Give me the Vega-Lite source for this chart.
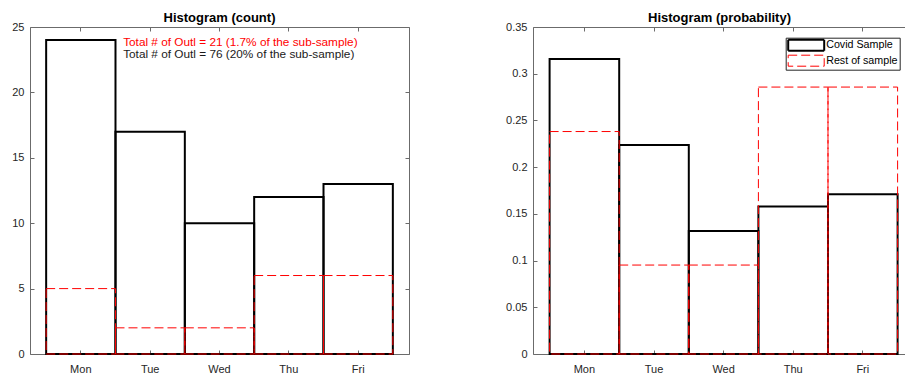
{
  "$schema": "https://vega.github.io/schema/vega-lite/v6.json",
  "padding": {"left": 5, "top": 12, "right": 0, "bottom": 0},
  "spacing": 93,
  "config": {
    "font": "Liberation Sans",
    "view": {"stroke": null},
    "axis": {
      "domainColor": "#6b6b6b",
      "domainWidth": 1,
      "tickColor": "#6b6b6b",
      "tickSize": -4,
      "labelColor": "#262626",
      "labelFont": "Liberation Sans",
      "labelFontSize": 11,
      "grid": false
    },
    "title": {
      "font": "Liberation Sans",
      "fontSize": 13,
      "fontWeight": "bold",
      "color": "#000000",
      "offset": -4,
      "baseline": "alphabetic"
    }
  },
  "datasets": {
    "weekdays": [
      {"day": "Mon", "series": "Covid Sample", "count": 24, "prob": 0.3158},
      {"day": "Tue", "series": "Covid Sample", "count": 17, "prob": 0.2237},
      {"day": "Wed", "series": "Covid Sample", "count": 10, "prob": 0.1316},
      {"day": "Thu", "series": "Covid Sample", "count": 12, "prob": 0.1579},
      {"day": "Fri", "series": "Covid Sample", "count": 13, "prob": 0.1711},
      {"day": "Mon", "series": "Rest of sample", "count": 5, "prob": 0.2381},
      {"day": "Tue", "series": "Rest of sample", "count": 2, "prob": 0.0952},
      {"day": "Wed", "series": "Rest of sample", "count": 2, "prob": 0.0952},
      {"day": "Thu", "series": "Rest of sample", "count": 6, "prob": 0.2857},
      {"day": "Fri", "series": "Rest of sample", "count": 6, "prob": 0.2857}
    ]
  },
  "hconcat": [
    {
      "width": 379,
      "height": 327,
      "title": "Histogram (count)",
      "data": {"name": "weekdays"},
      "resolve": {"axis": {"x": "independent", "y": "independent"}},
      "layer": [
        {
          "transform": [{"filter": "datum.series === 'Covid Sample'"}],
          "mark": {"type": "bar", "fill": "transparent", "stroke": "#000000", "strokeWidth": 2},
          "encoding": {
            "x": {
              "field": "day", "type": "nominal",
              "sort": ["Mon", "Tue", "Wed", "Thu", "Fri"],
              "scale": {"paddingInner": 0, "paddingOuter": 0.233},
              "axis": {"orient": "bottom", "title": null, "labelAngle": 0, "labelPadding": 13}
            },
            "y": {
              "field": "count", "type": "quantitative",
              "scale": {"domain": [0, 25], "nice": false},
              "axis": {"orient": "left", "title": null, "values": [0, 5, 10, 15, 20, 25], "labelPadding": 10, "minExtent": 25, "maxExtent": 25}
            }
          }
        },
        {
          "transform": [{"filter": "datum.series === 'Rest of sample'"}],
          "mark": {"type": "bar", "fill": "transparent", "stroke": "#ff0000", "strokeWidth": 1, "strokeDash": [9, 4]},
          "encoding": {
            "x": {
              "field": "day", "type": "nominal",
              "sort": ["Mon", "Tue", "Wed", "Thu", "Fri"],
              "axis": {"orient": "top", "title": null, "labels": false, "minExtent": 0, "maxExtent": 0}
            },
            "y": {
              "field": "count", "type": "quantitative",
              "axis": {"orient": "right", "title": null, "labels": false, "values": [0, 5, 10, 15, 20, 25], "minExtent": 0, "maxExtent": 0}
            }
          }
        },
        {
          "data": {"values": [{}]},
          "mark": {"type": "text", "align": "left", "baseline": "middle", "dx": -27, "fontSize": 11.8, "color": "#ff0000", "text": "Total # of Outl = 21 (1.7% of the sub-sample)"},
          "encoding": {
            "x": {"datum": "Tue", "type": "nominal", "axis": null},
            "y": {"datum": 23.88, "type": "quantitative", "axis": null}
          }
        },
        {
          "data": {"values": [{}]},
          "mark": {"type": "text", "align": "left", "baseline": "middle", "dx": -27, "fontSize": 11.8, "color": "#1a1a1a", "text": "Total # of Outl = 76 (20% of the sub-sample)"},
          "encoding": {
            "x": {"datum": "Tue", "type": "nominal", "axis": null},
            "y": {"datum": 22.94, "type": "quantitative", "axis": null}
          }
        }
      ]
    },
    {
      "width": 373,
      "height": 327,
      "title": "Histogram (probability)",
      "data": {"name": "weekdays"},
      "resolve": {"axis": {"x": "independent", "y": "independent"}},
      "layer": [
        {
          "transform": [{"filter": "datum.series === 'Covid Sample'"}],
          "mark": {"type": "bar", "fill": "transparent"},
          "encoding": {
            "x": {
              "field": "day", "type": "nominal",
              "sort": ["Mon", "Tue", "Wed", "Thu", "Fri"],
              "scale": {"paddingInner": 0, "paddingOuter": 0.1796, "align": 0.664},
              "axis": {"orient": "bottom", "title": null, "labelAngle": 0, "labelPadding": 13}
            },
            "y": {
              "field": "prob", "type": "quantitative",
              "scale": {"domain": [0, 0.35], "nice": false},
              "axis": {"orient": "left", "title": null, "values": [0, 0.05, 0.1, 0.15, 0.2, 0.25, 0.3, 0.35], "format": "~g", "labelPadding": 10, "minExtent": 30, "maxExtent": 30}
            },
            "stroke": {
              "field": "series", "type": "nominal",
              "scale": {"domain": ["Covid Sample", "Rest of sample"], "range": ["#000000", "#ff0000"]},
              "legend": {
                "orient": "none", "legendX": 755.7, "legendY": 10.7, "title": null,
                "symbolType": "M-1,-1.1H6.2V1.1H-1Z", "symbolSize": 100,
                "symbolFillColor": "transparent",
                "fillColor": "#ffffff", "strokeColor": "#262626",
                "padding": 1.5, "rowPadding": -3, "labelOffset": 27,
                "labelFont": "Liberation Sans", "labelFontSize": 10.7, "labelColor": "#000000"
              }
            },
            "strokeDash": {
              "field": "series", "type": "nominal",
              "scale": {"domain": ["Covid Sample", "Rest of sample"], "range": [[1, 0], [9, 4]]}
            },
            "strokeWidth": {
              "field": "series", "type": "nominal",
              "scale": {"domain": ["Covid Sample", "Rest of sample"], "range": [2, 1]}
            }
          }
        },
        {
          "transform": [{"filter": "datum.series === 'Rest of sample'"}],
          "mark": {"type": "bar", "fill": "transparent"},
          "encoding": {
            "x": {
              "field": "day", "type": "nominal",
              "sort": ["Mon", "Tue", "Wed", "Thu", "Fri"],
              "axis": {"orient": "top", "title": null, "labels": false, "minExtent": 0, "maxExtent": 0}
            },
            "y": {"field": "prob", "type": "quantitative", "axis": null},
            "stroke": {"field": "series", "type": "nominal"},
            "strokeDash": {"field": "series", "type": "nominal"},
            "strokeWidth": {"field": "series", "type": "nominal"}
          }
        }
      ]
    }
  ]
}
